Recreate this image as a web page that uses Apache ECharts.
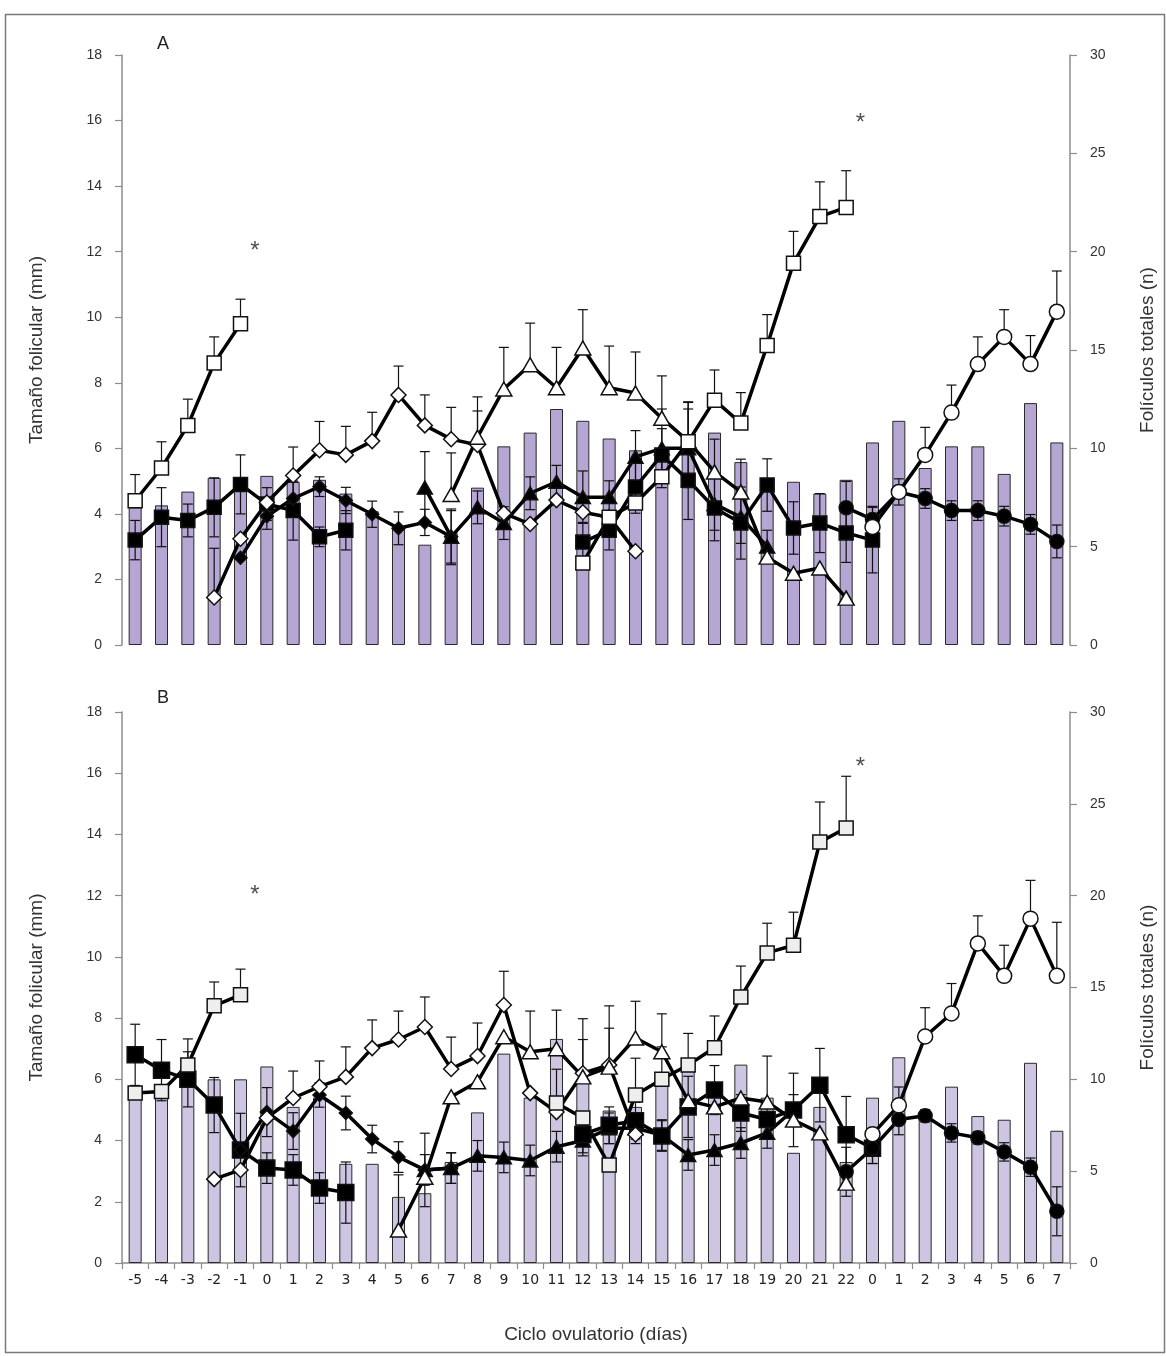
<!DOCTYPE html>
<html><head><meta charset="utf-8">
<script src="https://cdn.jsdelivr.net/npm/echarts@6/dist/echarts.min.js"></script>
<style>html,body{margin:0;padding:0;background:#fff}#c{width:1166px;height:1356px}</style>
</head><body><div id="c"></div>
<script>
// ---------- categories / ticks ----------
const dayLabels = ['-5','-4','-3','-2','-1','0','1','2','3','4','5','6','7','8','9','10','11','12','13','14','15','16','17','18','19','20','21','22','0','1','2','3','4','5','6','7'];
const leftTicks = [0, 18, 2];   // min, max, interval (mm)
const rightTicks = [0, 30, 5];  // min, max, interval (n)

// ---------- Panel A ----------
const A_bars = [7.0,7.1,7.8,8.5,8.5, 8.6,8.3,8.4,7.7,6.8,6.0,5.1,5.7, 8.0,10.1,10.8,12.0,11.4,10.5,9.9,9.6, 10.1,10.8,9.3,8.5,8.3,7.7,8.4, 10.3,11.4,9.0,10.1,10.1,8.7,12.3,10.3];
const A_sqOpen1 = [4.4,5.4,6.7,8.6,9.8];                 const A_sqOpen1_err = [0.8,0.8,0.8,0.8,0.75];           // from -5
const A_sqBlack1 = [3.2,3.9,3.8,4.2,4.9,4.3,4.1,3.3,3.5]; const A_sqBlack1_err = [0.6,0.9,0.5,0.9,0.9,0.5,0.9,0.3,0.6]; // from -5
const A_diaOpen = [1.45,3.24,4.35,5.17,5.94,5.80,6.22,7.63,6.70,6.28,6.10,4.02,3.69,4.42,4.05,3.9,2.86];
const A_diaOpen_err = [1.5,null,null,0.87,0.88,0.87,0.88,0.88,0.93,0.97,1.04,null,null,null,null,null,null];   // from -2
const A_diaBlack = [2.66,3.93,4.47,4.83,4.41,3.99,3.56,3.74,3.3];
const A_diaBlack_err = [null,0.4,0.5,0.3,0.4,0.4,0.5,0.4,0.85];                                                  // from -1
const A_triOpen = [4.59,6.34,7.81,8.55,7.85,9.06,7.85,7.69,6.92,6.22,5.28,4.67,2.68,2.19,2.35,1.43];
const A_triOpen_err = [1.27,1.23,1.27,1.27,1.23,1.17,1.27,1.25,1.29,1.2,1.0,1.0,null,null,null,null];            // from 7
const A_triBlack = [4.8,3.3,4.2,3.72,4.63,4.98,4.51,4.51,5.74,6.0,6.0,4.3,3.9,3.0];
const A_triBlack_err = [1.1,0.8,0.5,0.5,0.5,0.5,0.8,0.5,0.8,1.2,1.2,0.8,0.8,0.5];                                 // from 6
const A_sqOpen2 = [2.5,3.9,4.33,5.13,6.2,7.47,6.77,9.14,11.65,13.07,13.35];
const A_sqOpen2_err = [null,null,null,null,1.2,0.92,0.93,0.94,0.97,1.06,1.12];                                   // from 12
const A_sqBlack2 = [3.14,3.5,4.82,5.8,5.03,4.18,3.72,4.88,3.57,3.72,3.42,3.2];
const A_sqBlack2_err = [0.6,0.6,0.8,0.8,1.2,1.0,1.1,0.8,0.8,0.9,0.9,1.0];                                        // from 12
const A_cirBlack = [4.19,3.83,4.67,4.47,4.1,4.1,3.93,3.68,3.16];
const A_cirBlack_err = [0.8,0.4,0.4,0.3,0.3,0.3,0.3,0.3,0.5];                                                    // from 22
const A_cirOpen = [3.6,4.67,5.8,7.09,8.57,9.4,8.57,10.17];
const A_cirOpen_err = [null,null,0.84,0.84,0.83,0.83,0.87,1.24];                                                 // from 0'
const A_stars = [[5, 12.2], [28, 16.1]];

// ---------- Panel B ----------
const B_bars = [9.6,9.4,10.0,10.0,10.0, 10.7,8.5,9.0,5.4,5.4,3.6,3.8,5.5, 8.2,11.4,9.0,12.2,9.8,8.3,8.5,10.3, 10.5,9.5,10.8,9.0,6.0,8.5,5.5, 9.0,11.2,7.9,9.6,8.0,7.8,10.9,7.2];
const B_sqOpen1 = [5.55,5.6,6.47,8.4,8.76];               const B_sqOpen1_err = [null,null,0.85,0.78,0.84];      // from -5
const B_sqBlack1 = [6.8,6.3,6.0,5.16,3.69,3.1,3.04,2.45,2.3]; const B_sqBlack1_err = [1.0,1.0,0.9,0.9,1.2,0.5,0.5,0.5,1.0]; // from -5
const B_diaOpen = [2.74,3.04,4.74,5.39,5.76,6.08,7.02,7.3,7.71,6.34,6.76,8.43,5.55,4.93,6.2,6.47,4.2];
const B_diaOpen_err = [null,null,null,0.88,0.84,0.98,0.92,0.93,0.98,1.04,1.08,1.1,null,null,1.1,1.2,null];       // from -2
const B_diaBlack = [3.69,4.93,4.31,5.49,4.9,4.05,3.46,3.04,3.1];
const B_diaBlack_err = [null,0.8,0.6,0.4,0.55,0.45,0.5,1.2,0.5];                                                  // from -1
const B_triOpen = [1.08,2.8,5.43,5.92,7.39,6.9,7.0,6.08,6.4,7.35,6.9,5.3,5.1,5.39,5.26,4.67,4.25,2.61];
const B_triOpen_err = [1.8,null,null,null,null,1.33,1.26,1.9,2.0,1.2,1.24,null,null,null,1.5,null,null,null];    // from 5
const B_triBlack = [3.04,3.1,3.5,3.45,3.35,3.8,4.0,4.4,4.4,4.18,3.53,3.69,3.92,4.25,5.0];
const B_triBlack_err = [0.5,0.5,0.5,0.5,0.5,0.5,0.5,0.5,0.5,0.5,0.5,0.5,0.5,0.5,0.5];                            // from 6
const B_sqOpen2 = [5.23,4.74,3.2,5.49,6.0,6.47,7.03,8.69,10.13,10.38,13.75,14.21];
const B_sqOpen2_err = [1.1,null,null,1.2,1.06,1.03,1.04,1.01,0.97,1.08,1.31,1.69];                               // from 11
const B_sqBlack2 = [4.2,4.5,4.65,4.15,5.1,5.65,4.9,4.69,5.0,5.81,4.19,3.75];
const B_sqBlack2_err = [0.6,0.6,0.6,0.5,1.0,0.8,0.6,0.5,1.2,1.2,1.25,0.5];                                       // from 12
const B_cirBlack = [2.98,3.75,4.69,4.81,4.25,4.09,3.63,3.13,1.69];
const B_cirBlack_err = [0.8,0.5,0.5,0.2,0.3,0.2,0.3,0.3,0.8];                                                    // from 22
const B_cirOpen = [4.21,5.15,7.4,8.15,10.44,9.38,11.25,9.38];
const B_cirOpen_err = [null,0.6,0.94,0.98,0.9,1.0,1.25,1.75];                                                    // from 0'
const B_stars = [[5, 12.2], [28, 16.4]];

// ---------- helpers ----------
const N = dayLabels.length;
function place(start, vals){ const a = new Array(N).fill(null); vals.forEach((v,i)=>{ a[start+i] = v; }); return a; }

const STY = {
  sqOpen:   {symbol:'rect', size:14, fill:'#ffffff'},
  sqOpenB:  {symbol:'rect', size:14, fill:'#eeeeee'},
  sqBlack:  {symbol:'rect', size:14, fill:'#000000'},
  sqBlackB: {symbol:'rect', size:16, fill:'#000000'},
  diaOpen:  {symbol:'diamond', size:[15,15], fill:'#ffffff'},
  diaBlack: {symbol:'diamond', size:[13,13], fill:'#000000'},
  triOpen:  {symbol:'triangle', size:[16,14], fill:'#ffffff'},
  triBlack: {symbol:'triangle', size:[15,13], fill:'#000000'},
  cirOpen:  {symbol:'circle', size:15, fill:'#ffffff'},
  cirBlack: {symbol:'circle', size:14, fill:'#000000'}
};

// [panel(0/1), style, start index, values, errors, symmetric error]
const lineDefs = [
  [0,'sqBlack', 0, A_sqBlack1, A_sqBlack1_err, true],
  [0,'diaBlack',4, A_diaBlack, A_diaBlack_err, true],
  [0,'triBlack',11,A_triBlack, A_triBlack_err, true],
  [0,'sqBlack', 17,A_sqBlack2, A_sqBlack2_err, true],
  [0,'cirBlack',27,A_cirBlack, A_cirBlack_err, true],
  [0,'sqOpen',  0, A_sqOpen1, A_sqOpen1_err, false],
  [0,'diaOpen', 3, A_diaOpen, A_diaOpen_err, false],
  [0,'triOpen', 12,A_triOpen, A_triOpen_err, false],
  [0,'sqOpen',  17,A_sqOpen2, A_sqOpen2_err, false],
  [0,'cirOpen', 28,A_cirOpen, A_cirOpen_err, false],
  [1,'sqBlackB',0, B_sqBlack1, B_sqBlack1_err, true],
  [1,'diaBlack',4, B_diaBlack, B_diaBlack_err, true],
  [1,'triBlack',11,B_triBlack, B_triBlack_err, true],
  [1,'sqBlackB',17,B_sqBlack2, B_sqBlack2_err, true],
  [1,'cirBlack',27,B_cirBlack, B_cirBlack_err, true],
  [1,'sqOpenB', 0, B_sqOpen1, B_sqOpen1_err, false],
  [1,'diaOpen', 3, B_diaOpen, B_diaOpen_err, false],
  [1,'triOpen', 10,B_triOpen, B_triOpen_err, false],
  [1,'sqOpenB', 16,B_sqOpen2, B_sqOpen2_err, false],
  [1,'cirOpen', 28,B_cirOpen, B_cirOpen_err, false]
];

function errRender(params, api){
  const x = api.value(0);
  const hi = api.coord([x, api.value(1)]);
  const lo = api.coord([x, api.value(2)]);
  const both = api.value(3);
  const w = 5, st = {stroke:'#111', lineWidth:1.2};
  const ch = [
    {type:'line', shape:{x1:hi[0], y1:hi[1], x2:lo[0], y2:lo[1]}, style:st},
    {type:'line', shape:{x1:hi[0]-w, y1:hi[1], x2:hi[0]+w, y2:hi[1]}, style:st}
  ];
  if (both) ch.push({type:'line', shape:{x1:lo[0]-w, y1:lo[1], x2:lo[0]+w, y2:lo[1]}, style:st});
  return {type:'group', children:ch};
}

const series = [];
// bars first
[[0, A_bars, '#b5a6d3'], [1, B_bars, '#cec5e3']].forEach(([p, vals, col]) => {
  series.push({type:'bar', xAxisIndex:p, yAxisIndex:p*2+1, data:vals, barWidth:13, z:1,
    itemStyle:{color:col, borderColor:'#2a2a2a', borderWidth:1}, silent:true});
});
// error bars
lineDefs.forEach(([p, sty, start, vals, errs, both]) => {
  const d = [];
  vals.forEach((v,i) => { const e = errs[i]; if (e != null) d.push([start+i, v+e, both ? v-e : v, both ? 1 : 0]); });
  series.push({type:'custom', xAxisIndex:p, yAxisIndex:p*2, renderItem:errRender, data:d, z:2,
    encode:{x:0, y:[1,2]}, silent:true});
});
// lines
lineDefs.forEach(([p, sty, start, vals]) => {
  const s = STY[sty];
  series.push({type:'line', xAxisIndex:p, yAxisIndex:p*2, data:place(start, vals), z:3,
    symbol:s.symbol, symbolSize:s.size, showAllSymbol:true,
    lineStyle:{color:'#000', width:3.5}, itemStyle:{color:s.fill, borderColor:'#111', borderWidth:1.5},
    silent:true});
});
// asterisks
[[0, A_stars], [1, B_stars]].forEach(([p, pts]) => {
  series.push({type:'scatter', xAxisIndex:p, yAxisIndex:p*2, data:pts, symbolSize:1, z:4,
    itemStyle:{color:'rgba(0,0,0,0)'},
    label:{show:true, position:'inside', formatter:'*', fontSize:24, color:'#222', fontFamily:'Liberation Sans', offset:[-12,6]}});
});

const yLeft = (g) => ({gridIndex:g, type:'value', position:'left', min:leftTicks[0], max:leftTicks[1], interval:leftTicks[2],
  axisLine:{show:true, lineStyle:{color:'#8c8c8c', width:1.5}}, axisTick:{show:true, length:7, lineStyle:{color:'#8c8c8c', width:1.2}},
  splitLine:{show:false}, axisLabel:{margin:20, fontSize:14, color:'#333', fontFamily:'Liberation Sans'},
  name:'Tamaño folicular (mm)', nameLocation:'middle', nameGap:76, nameRotate:90,
  nameTextStyle:{fontSize:19, color:'#333', fontFamily:'Liberation Sans'}});
const yRight = (g) => ({gridIndex:g, type:'value', position:'right', min:rightTicks[0], max:rightTicks[1], interval:rightTicks[2],
  axisLine:{show:true, lineStyle:{color:'#8c8c8c', width:1.5}}, axisTick:{show:true, length:7, lineStyle:{color:'#8c8c8c', width:1.2}},
  splitLine:{show:false}, axisLabel:{margin:20, fontSize:14, color:'#333', fontFamily:'Liberation Sans'},
  name:'Folículos totales (n)', nameLocation:'middle', nameGap:68, nameRotate:90,
  nameTextStyle:{fontSize:19, color:'#333', fontFamily:'Liberation Sans'}});

const option = {
  animation:false,
  backgroundColor:'#ffffff',
  title:[
    {text:'A', left:152, top:30, textStyle:{fontSize:18, fontWeight:'normal', color:'#222', fontFamily:'Liberation Sans'}},
    {text:'B', left:152, top:684, textStyle:{fontSize:18, fontWeight:'normal', color:'#222', fontFamily:'Liberation Sans'}}
  ],
  grid:[
    {left:122, top:55, width:948, height:590},
    {left:122, top:712, width:948, height:551}
  ],
  xAxis:[
    {gridIndex:0, type:'category', data:dayLabels, axisLine:{show:false}, axisTick:{show:false}, axisLabel:{show:false}},
    {gridIndex:1, type:'category', data:dayLabels,
      axisLine:{show:true, lineStyle:{color:'#8c8c8c', width:1.5}},
      axisTick:{show:true, interval:0, length:6, lineStyle:{color:'#8c8c8c', width:1.2}},
      axisLabel:{interval:0, margin:10, fontSize:14, color:'#222', fontFamily:'DejaVu Sans'},
      name:'Ciclo ovulatorio (días)', nameLocation:'middle', nameGap:62,
      nameTextStyle:{fontSize:19, color:'#333', fontFamily:'Liberation Sans'}}
  ],
  yAxis:[yLeft(0), yRight(0), yLeft(1), yRight(1)],
  graphic:[{type:'rect', left:3, top:12, shape:{width:1159, height:1338}, style:{fill:'none', stroke:'#7a7a7a', lineWidth:1.5}, silent:true}],
  series:series
};
echarts.init(document.getElementById('c'), null, {renderer:'canvas'}).setOption(option);
</script></body></html>
